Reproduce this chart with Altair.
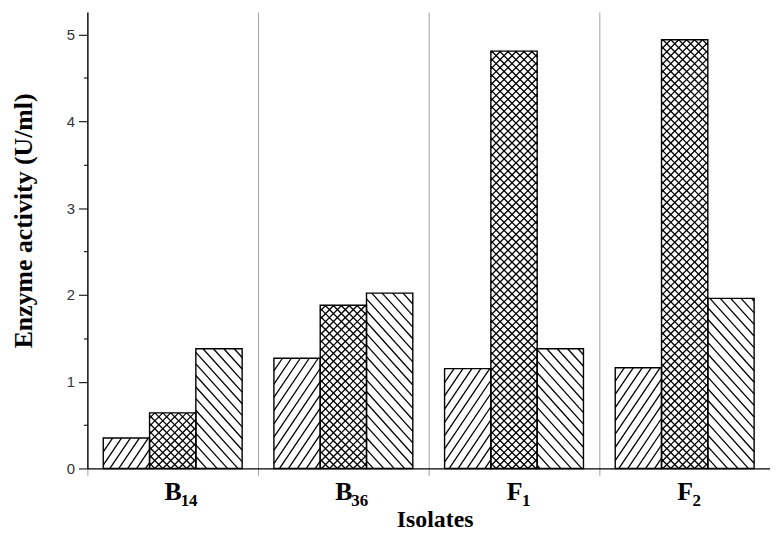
import math
import altair as alt
import pandas as pd

# ---- data ----
isolates = ["B14", "B36", "F1", "F2"]
series = ["s1", "s2", "s3"]
s1_values = [0.35, 1.27, 1.15, 1.16]
s2_values = [0.64, 1.88, 4.81, 4.94]
s3_values = [1.38, 2.02, 1.38, 1.96]
y_ticks = [0, 0.5, 1, 1.5, 2, 2.5, 3, 3.5, 4, 4.5, 5]

values = [s1_values, s2_values, s3_values]
rows = []
for j, ser in enumerate(series):
    for i, iso in enumerate(isolates):
        rows.append({"isolate": iso, "series": ser, "value": values[j][i]})
df = pd.DataFrame(rows)
labels_df = pd.DataFrame({"isolate": isolates, "sub": [s[1:] for s in isolates]})

# ---- layout / style constants ----
W, H = 688, 460
YMAX = 5.26
PAD_OUT = 0.343
BAND = W / len(isolates)
BAR_W = BAND / (len(series) + 2 * PAD_OUT)
INK = "#000000"
# hatch style per series: list of (direction, angle deg, horizontal period px)
HATCH = {
    "s1": [("/", 56, 9.0)],
    "s2": [("/", 45, 8.0), ("\\", 45, 8.0)],
    "s3": [("\\", 48, 10.5)],
}


def clip_segment(p0, d, x0, x1, y0, y1):
    t_lo, t_hi = -1e9, 1e9
    for pc, dc, lo, hi in ((p0[0], d[0], x0, x1), (p0[1], d[1], y0, y1)):
        if abs(dc) < 1e-12:
            if pc < lo or pc > hi:
                return None
            continue
        ta, tb = (lo - pc) / dc, (hi - pc) / dc
        if ta > tb:
            ta, tb = tb, ta
        t_lo, t_hi = max(t_lo, ta), min(t_hi, tb)
    if t_hi - t_lo < 0.3:
        return None
    return ((p0[0] + t_lo * d[0], p0[1] + t_lo * d[1]),
            (p0[0] + t_hi * d[0], p0[1] + t_hi * d[1]))


# hatch segments derived from the bar values (pixel space -> data units)
hatch_rows = []
for i, iso in enumerate(isolates):
    for j, ser in enumerate(series):
        h = values[j][i] * H / YMAX
        x0 = i * BAND + PAD_OUT * BAR_W + j * BAR_W
        x1 = x0 + BAR_W
        y0, y1 = H - h, H
        for direction, ang, period in HATCH[ser]:
            th = math.radians(ang)
            s, c = math.sin(th), math.cos(th)
            if direction == "/":
                d, n = (c, -s), (s, c)
            else:
                d, n = (c, s), (s, -c)
            proj = [px * n[0] + py * n[1] for px in (x0, x1) for py in (y0, y1)]
            per = period * s
            cval = math.floor(min(proj) / per) * per
            while cval <= max(proj):
                seg = clip_segment((cval * n[0], cval * n[1]), d, x0, x1, y0, y1)
                if seg:
                    (ax, ay), (bx, by) = seg
                    hatch_rows.append({
                        "xa": ax / BAND, "xb": bx / BAND,
                        "ya": (H - ay) / H * YMAX, "yb": (H - by) / H * YMAX,
                    })
                cval += per
hatch_df = pd.DataFrame(hatch_rows)

y_scale = alt.Scale(domain=[0, YMAX], nice=False, zero=True)
y_axis = alt.Axis(
    values=y_ticks,
    labelExpr="datum.value % 1 ? '' : format(datum.value, 'd')",
    tickSize={"condition": {"test": "datum.value % 1", "value": 4}, "value": 9},
    grid=False, domainColor="black", domainWidth=1.3, tickColor="#222",
    tickWidth=1.2, labelFont="Liberation Sans", labelFontSize=15,
    labelColor="#333", labelPadding=4,
    title="Enzyme activity (U/ml)", titleFont="Liberation Serif",
    titleFontWeight="bold", titleFontSize=26, titleColor="black",
    titleX=-56, titleY=210, titleBaseline="alphabetic",
)
x_enc = alt.X(
    "isolate:N",
    scale=alt.Scale(domain=isolates, paddingInner=0, paddingOuter=0),
    axis=alt.Axis(
        title="Isolates", labelAngle=0, tickBand="extent", grid=True,
        gridColor="#a0a0a0", gridWidth=1, tickColor="#a0a0a0", tickSize=7,
        domainColor="black", domainWidth=1.3,
        labelExpr="substring(datum.label, 0, 1)",
        labelFont="Liberation Serif", labelFontWeight="bold", labelFontSize=26,
        labelColor="black", labelPadding=3,
        titleFont="Liberation Serif", titleFontWeight="bold", titleFontSize=24,
        titleColor="black", titlePadding=4, titleX=350,
    ),
)

hatch = (
    alt.Chart(hatch_df)
    .mark_rule(color=INK, strokeWidth=1.3)
    .encode(
        x=alt.X("xa:Q", scale=alt.Scale(domain=[0, len(isolates)], nice=False, zero=False), axis=None),
        x2="xb:Q",
        y=alt.Y("ya:Q", scale=y_scale, axis=y_axis),
        y2="yb:Q",
    )
)

bars = (
    alt.Chart(df)
    .mark_bar(fill="white", fillOpacity=0, stroke="black", strokeWidth=1.4)
    .encode(
        x=x_enc,
        xOffset=alt.XOffset(
            "series:N",
            scale=alt.Scale(domain=series, paddingOuter=PAD_OUT, paddingInner=0),
        ),
        y=alt.Y("value:Q", scale=y_scale, axis=y_axis),
    )
)

subs = (
    alt.Chart(labels_df)
    .mark_text(align="left", baseline="alphabetic", dx=8, font="Liberation Serif",
               fontWeight="bold", fontSize=17, color="black")
    .encode(x=alt.X("isolate:N", scale=alt.Scale(domain=isolates, paddingInner=0, paddingOuter=0)),
            y=alt.value(H + 38), text="sub:N")
)

chart = (
    alt.layer(hatch, alt.layer(bars, subs))
    .resolve_scale(x="independent")
    .properties(
        width=W, height=H,
        autosize=alt.AutoSizeParams(type="none"),
        padding={"left": 80, "top": 2, "right": 0, "bottom": 62},
        background="white",
    )
    .configure_view(stroke=None)
)

chart.save("out.html", embed_options={"renderer": "svg", "actions": False})
